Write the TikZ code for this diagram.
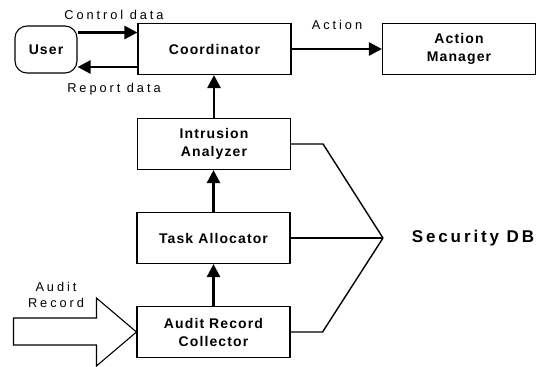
\documentclass[tikz,border=0pt]{standalone}
\usepackage{fontspec}
\setmainfont{Liberation Sans}
\newfontfamily\lblfont[LetterSpace=23]{Liberation Sans}
\newfontfamily\boxfont[LetterSpace=8]{Liberation Sans}
\newfontfamily\dbfont[LetterSpace=17]{Liberation Sans}
\usetikzlibrary{arrows.meta}
\tikzset{
  box/.style={draw, line width=1.1pt, minimum width=153pt, minimum height=51pt, inner sep=0pt, align=center,
    font=\boxfont\bfseries\fontsize{14}{18}\selectfont},
  userbox/.style={draw, line width=1.1pt, rounded corners=12pt, minimum width=62pt, minimum height=47pt, inner sep=0pt,
    font=\boxfont\bfseries\fontsize{14}{18}\selectfont},
  lbl/.style={inner sep=0pt, align=center, font=\lblfont\fontsize{12.8}{15.5}\selectfont},
  dblbl/.style={inner sep=0pt, font=\dbfont\bfseries\fontsize{17}{20}\selectfont},
  arr/.style={line width=2.6pt, -{Triangle[length=13pt,width=13pt]}},
  link/.style={line width=1.4pt, line join=miter},
  hollow/.style={line width=1.1pt, line join=miter}
}
\begin{document}
\begin{tikzpicture}[x=1pt,y=-1pt]
\useasboundingbox (0,0) rectangle (539,367);
\node[userbox] (user) at (46,49.5) {User};
\node[box] (coord) at (214.5,49) {Coordinator};
\node[box] (am) at (459,49) {Action\\Manager};
\node[box] (ia) at (214,144) {Intrusion\\Analyzer};
\node[box] (ta) at (213.5,238) {Task Allocator};
\node[box] (arc) at (213.5,332) {Audit Record\\Collector};
\coordinate (j) at (383,238);
\node[dblbl] (db) at (473,238) {Security DB};
\node[lbl] (cd) at (114,15) {Control data};
\node[lbl] (rd) at (114,89) {Report data};
\node[lbl] (act) at (337,25) {Action};
\node[lbl] (au) at (56,295) {Audit\\Record};
\draw[arr] ([yshift=17pt]user.east) -- ([yshift=17pt]user.east -| coord.west);
\draw[arr] ([yshift=-18pt]coord.west) -- ([yshift=-18pt]coord.west -| user.east);
\draw[arr] (coord.east) -- (am.west);
\draw[arr] (ia.north) -- (ia.north |- coord.south);
\draw[arr] (ta.north) -- (ta.north |- ia.south);
\draw[arr] (arc.north) -- (ta.south);
\draw[link] (ia.east) -- ++(32,0) -- (j);
\draw[link] (ta.east) -- (j);
\draw[link] (arc.east) -- ++(32,0) -- (j);
\draw[hollow] (arc.west) -- ++(-40,-34) -- ++(0,20) -- ++(-83,0) -- ++(0,27) -- ++(83,0) -- ++(0,21) -- cycle;
\end{tikzpicture}
\end{document}
